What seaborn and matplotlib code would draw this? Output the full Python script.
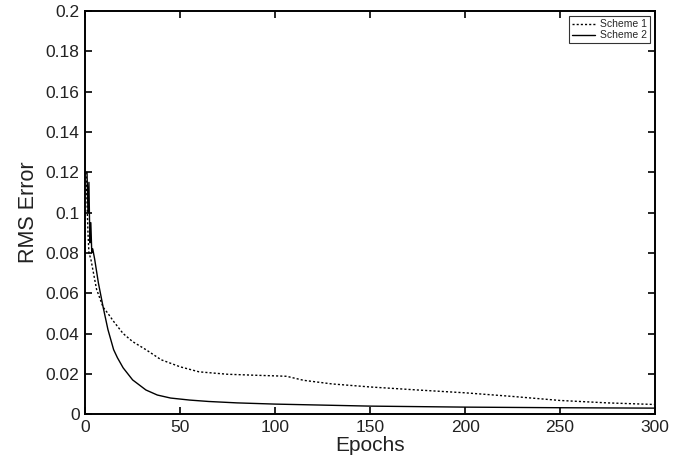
import pandas as pd
import matplotlib
matplotlib.use('Agg')
import matplotlib.pyplot as plt
import seaborn as sns

# Values
epochs_s1 = [0.5, 1, 1.5, 2, 3, 4, 6, 9.5, 12, 15, 20, 25, 32, 40, 50, 60, 75, 90,
             100, 106, 115, 130, 150, 175, 200, 225, 250, 275, 300]
rms_s1 = [0.12, 0.105, 0.09, 0.08, 0.077, 0.072, 0.062, 0.053, 0.05, 0.046, 0.04, 0.036,
          0.032, 0.027, 0.0235, 0.021, 0.0198, 0.0193, 0.019, 0.0188, 0.0168, 0.015,
          0.0135, 0.012, 0.0106, 0.0088, 0.0068, 0.0056, 0.0048]

epochs_s2 = [1, 1.5, 2, 2.5, 3, 3.5, 4, 5, 7, 9.5, 12, 15, 17, 20, 25, 32, 38, 45, 55,
             65, 80, 100, 125, 150, 200, 250, 300]
rms_s2 = [0.12, 0.10, 0.115, 0.085, 0.095, 0.08, 0.082, 0.077, 0.065, 0.053, 0.042,
          0.032, 0.028, 0.023, 0.017, 0.012, 0.0095, 0.008, 0.007, 0.0063, 0.0056, 0.005,
          0.0045, 0.004, 0.0035, 0.0032, 0.003]

x_ticks = [0, 50, 100, 150, 200, 250, 300]
y_ticks = [0, 0.02, 0.04, 0.06, 0.08, 0.1, 0.12, 0.14, 0.16, 0.18, 0.2]
y_tick_labels = ['0', '0.02', '0.04', '0.06', '0.08', '0.1', '0.12', '0.14', '0.16', '0.18', '0.2']

df1 = pd.DataFrame({'Epochs': epochs_s1, 'RMS Error': rms_s1})
df2 = pd.DataFrame({'Epochs': epochs_s2, 'RMS Error': rms_s2})

sns.set_style('ticks')
plt.rcParams['font.family'] = ['Liberation Sans', 'DejaVu Sans']

fig = plt.figure(figsize=(6.81, 4.68), dpi=100)
ax = fig.add_axes([0.125, 0.115, 0.837, 0.8615])

sns.lineplot(data=df1, x='Epochs', y='RMS Error', ax=ax, color='black',
             linewidth=1.0, linestyle=(0, (1.5, 1.5)), label='Scheme 1')
sns.lineplot(data=df2, x='Epochs', y='RMS Error', ax=ax, color='black',
             linewidth=1.0, label='Scheme 2')

ax.set_xlim(0, 300)
ax.set_ylim(0, 0.2)
ax.set_xticks(x_ticks)
ax.set_yticks(y_ticks)
ax.set_yticklabels(y_tick_labels)
ax.tick_params(direction='in', length=5, width=1.2, labelsize=12.5, top=True, right=True,
               colors='black', labelcolor='#222222', pad=4)
for sp in ax.spines.values():
    sp.set_visible(True)
    sp.set_linewidth(1.4)
    sp.set_color('black')

ax.set_xlabel('Epochs', fontsize=15, labelpad=1, color='#222222')
ax.set_ylabel('RMS Error', fontsize=15.5, labelpad=5, color='#222222')

leg = ax.legend(loc='upper right', fontsize=7.5, frameon=True, fancybox=False,
                handlelength=2.2, handletextpad=0.5, borderpad=0.3, labelspacing=0.1,
                borderaxespad=0.5)
leg.get_frame().set_edgecolor('black')
leg.get_frame().set_linewidth(0.8)

fig.savefig('out.png', dpi=100)
